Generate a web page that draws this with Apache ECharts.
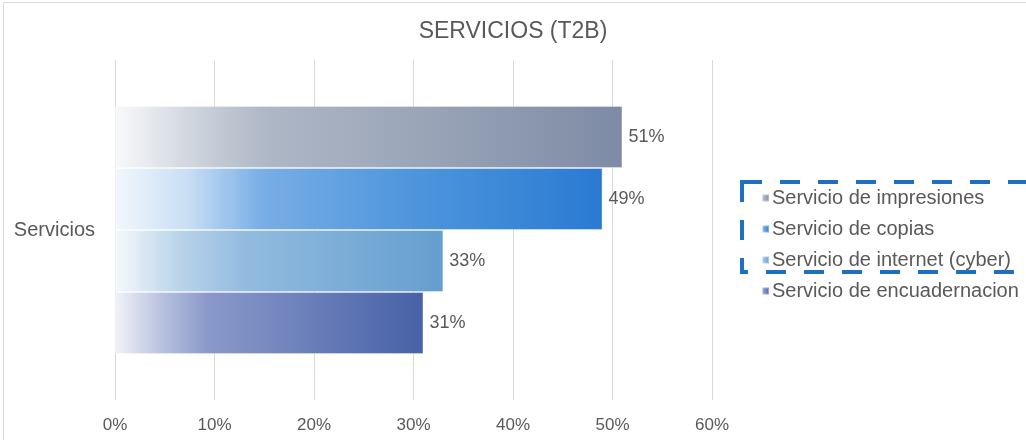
<!DOCTYPE html>
<html>
<head>
<meta charset="utf-8">
<script src="https://cdn.jsdelivr.net/npm/echarts@6/dist/echarts.min.js"></script>
<style>
  html, body { margin: 0; padding: 0; background: #ffffff; }
  #chart { width: 1026px; height: 440px; }
</style>
</head>
<body>
<div id="chart"></div>
<script>
// Categories, series and tick values
const categories = ['Servicios'];
const seriesNames = [
  'Servicio de impresiones',
  'Servicio de copias',
  'Servicio de internet (cyber)',
  'Servicio de encuadernacion'
];
const impresiones = [51];
const copias = [49];
const internet = [33];
const encuadernacion = [31];
const xTicks = { min: 0, max: 60, interval: 10 };

const seriesValues = [impresiones, copias, internet, encuadernacion];

// Left-to-right fades for each bar
const fades = [
  [[0, '#f8f9fb'], [0.2, '#c3cad5'], [0.3, '#aeb7c6'], [0.6, '#9aa5b8'], [1, '#7e8ba5']],
  [[0, '#f2f7fd'], [0.15, '#c8def4'], [0.3, '#79aee6'], [0.6, '#4f96dc'], [1, '#2a7ad3']],
  [[0, '#f5f9fc'], [0.2, '#b8d2e9'], [0.4, '#92bbdf'], [1, '#649ecf']],
  [[0, '#f2f3f9'], [0.15, '#b8c1df'], [0.3, '#8a99ca'], [1, '#4761a7']]
];

function fade(stops) {
  return new echarts.graphic.LinearGradient(0, 0, 1, 0,
    stops.map(s => ({ offset: s[0], color: s[1] })));
}

const textColor = '#595959';
const fontFamily = "'Liberation Sans', Arial, sans-serif";

const chart = echarts.init(document.getElementById('chart'));

chart.setOption({
  animation: false,
  backgroundColor: '#ffffff',
  title: {
    text: 'SERVICIOS (T2B)',
    left: 'center',
    top: 15,
    textStyle: { color: textColor, fontSize: 23, fontWeight: 'normal', fontFamily }
  },
  legend: {
    orient: 'vertical',
    left: 756,
    top: 183,
    itemWidth: 7,
    itemHeight: 7,
    itemGap: 11,
    icon: 'rect',
    data: seriesNames,
    textStyle: { color: textColor, fontSize: 20, fontFamily, padding: [0, 0, 0, -2] }
  },
  grid: { left: 115, right: 314, top: 60, bottom: 40, containLabel: false },
  xAxis: {
    type: 'value',
    min: xTicks.min,
    max: xTicks.max,
    interval: xTicks.interval,
    axisLine: { show: false },
    axisTick: { show: false },
    axisLabel: {
      formatter: '{value}%',
      color: textColor,
      fontSize: 17,
      fontFamily,
      margin: 17
    },
    splitLine: { lineStyle: { color: '#d9d9d9', width: 1 } }
  },
  yAxis: {
    type: 'category',
    data: categories,
    inverse: true,
    axisLine: { show: false },
    axisTick: { show: false },
    axisLabel: { color: textColor, fontSize: 20, fontFamily, margin: 20 }
  },
  series: seriesNames.map((name, i) => ({
    name,
    type: 'bar',
    data: seriesValues[i],
    barGap: '0%',
    barCategoryGap: '27%',
    itemStyle: {
      color: fade(fades[i]),
      borderColor: 'rgba(255,255,255,0.35)',
      borderWidth: 1
    },
    label: {
      show: true,
      position: 'right',
      distance: 6,
      formatter: p => p.value + '%',
      color: textColor,
      fontSize: 18,
      fontFamily
    }
  })),
  graphic: [
    {
      type: 'rect',
      silent: true,
      shape: { x: 3.5, y: 2.5, width: 1030, height: 445 },
      style: { fill: 'none', stroke: '#d9d9d9', lineWidth: 1 }
    },
    {
      type: 'rect',
      silent: true,
      z: 10,
      shape: { x: 742, y: 182, width: 300, height: 90 },
      style: { fill: 'none', stroke: '#1f6fc3', lineWidth: 4, lineDash: [20, 18] }
    }
  ]
});
</script>
</body>
</html>
